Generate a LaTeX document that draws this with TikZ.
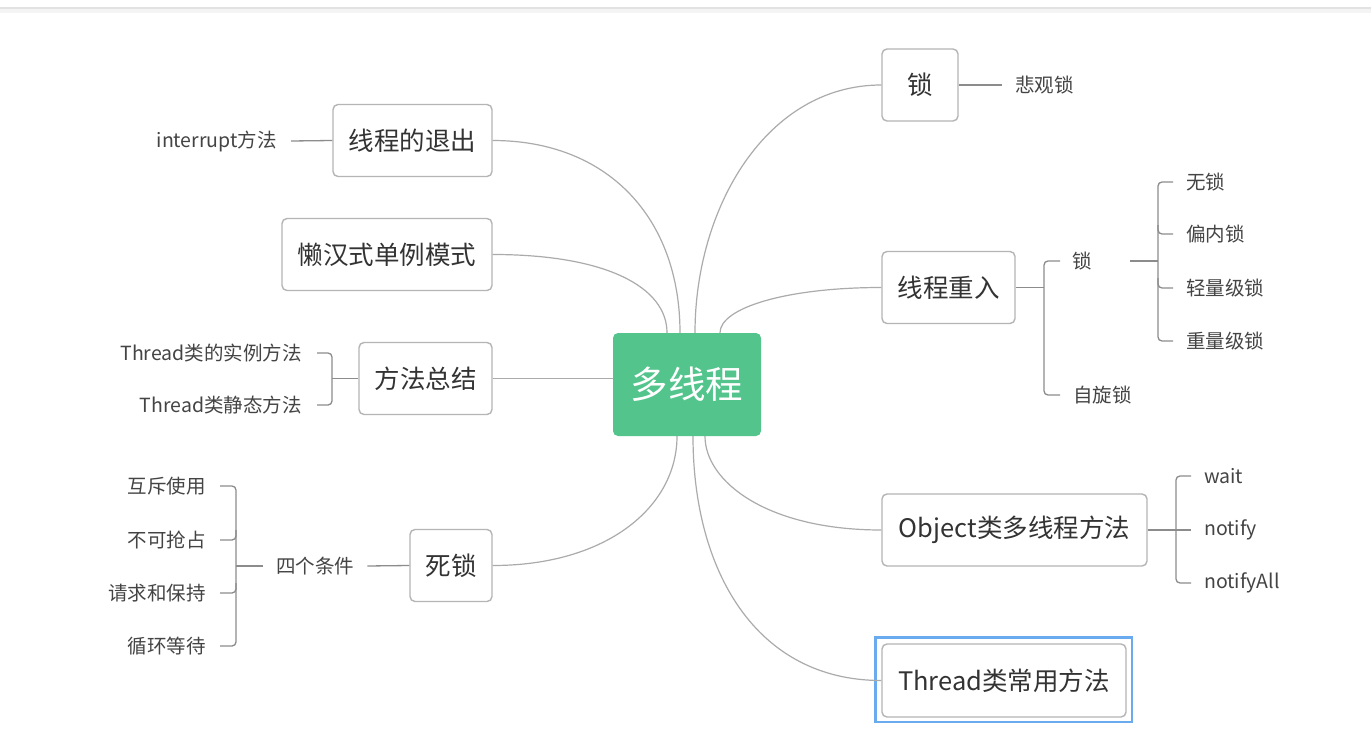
\documentclass[tikz,border=0pt]{standalone}
\usepackage{fontspec}
\setmainfont{Noto Sans CJK SC}
\usetikzlibrary{calc}
\definecolor{boxline}{HTML}{B5B5B5}
\definecolor{boxtext}{HTML}{333333}
\definecolor{leaftext}{HTML}{444444}
\definecolor{curve}{HTML}{ABABAB}
\definecolor{brk}{HTML}{8C8C8C}
\definecolor{maingreen}{HTML}{52C48C}
\definecolor{selblue}{HTML}{6AAAEE}
\definecolor{topbar}{HTML}{E2E2E2}
\begin{document}
\begin{tikzpicture}[x=1pt,y=-1pt,
  box/.style={draw=boxline, line width=1.4pt, rounded corners=5pt, fill=white,
    text=boxtext, font=\fontsize{25.5}{29}\selectfont, minimum height=72pt, inner xsep=2pt},
  mainbox/.style={fill=maingreen, rounded corners=5pt, text=white,
    font=\fontsize{37.5}{42}\selectfont, minimum width=148pt, minimum height=103pt},
  leaf/.style={text=leaftext, font=\fontsize{19.5}{23}\selectfont, inner sep=0pt},
  conn/.style={draw=curve, line width=1.2pt},
  bracket/.style={draw=brk, line width=1.3pt, rounded corners=4pt},
  stem/.style={draw=brk, line width=1.3pt}]
\useasboundingbox (0,0) rectangle (1371,752);
\fill[white] (0,0) rectangle (1371,752);
\fill[topbar!40] (0,9) rectangle (1371,13);
\draw[topbar, line width=2pt] (0,8) -- (1371,8);

% central node
\node[mainbox] (c) at (687,384.5) {多线程};

% right boxes
\node[box, minimum width=76pt] (lock) at (920,85) {锁};
\node[box, minimum width=133pt] (reent) at (948.5,287.5) {线程重入};
\node[box, minimum width=265pt] (obj) at (1014.5,530) {Object类多线程方法};
\node[box, minimum width=244pt, minimum height=73pt] (thr) at (1004,680.5) {Thread类常用方法};
\draw[selblue, line width=2.4pt] ([xshift=-6pt,yshift=6pt]thr.north west) rectangle ([xshift=5pt,yshift=-4pt]thr.south east);

% left boxes
\node[box, minimum width=159pt] (exit) at (412.5,140.5) {线程的退出};
\node[box, minimum width=210pt] (lazy) at (387,254.5) {懒汉式单例模式};
\node[box, minimum width=133pt] (summ) at (425.5,378.5) {方法总结};
\node[box, minimum width=82pt] (dead) at (451,565.5) {死锁};

% connectors from center
\draw[conn] (exit.east) .. controls +(115,0) and +(0,-115) .. ([xshift=-7pt]c.north);
\draw[conn] (lazy.east) .. controls +(115,0) and +(0,-45) .. ([xshift=-20pt]c.north);
\draw[conn] (summ.east) -- (summ.east -| c.west);
\draw[conn] (dead.east) .. controls +(115,0) and +(0,70) .. ([xshift=-10pt]c.south);
\draw[conn] (lock.west) .. controls +(-115,0) and +(0,-125) .. ([xshift=8pt]c.north);
\draw[conn] (reent.west) .. controls +(-95,0) and +(0,-25) .. ([xshift=33pt]c.north);
\draw[conn] (obj.west) .. controls +(-115,0) and +(0,45) .. ([xshift=18pt]c.south);
\draw[conn] (thr.west) .. controls +(-125,0) and +(0,135) .. ([xshift=6pt]c.south);

% lock -> 悲观锁
\node[leaf, anchor=west] (p1) at (1015,85) {悲观锁};
\draw[stem] (lock.east) -- ([xshift=-13pt]p1.west);

% 线程重入 subtree
\node[leaf, anchor=west] (r1) at (1072,261) {锁};
\node[leaf, anchor=west] (r2) at (1073,395) {自旋锁};
\coordinate (rb) at (1044,287.5);
\draw[stem] (reent.east) -- (rb);
\draw[bracket] (1060,261) -| (rb) |- (1060,395);
\node[leaf, anchor=west] (w1) at (1186,182) {无锁};
\node[leaf, anchor=west] (w2) at (1186,234) {偏内锁};
\node[leaf, anchor=west] (w3) at (1186,288) {轻量级锁};
\node[leaf, anchor=west] (w4) at (1186,341) {重量级锁};
\coordinate (r1end) at (1130,261);
\coordinate (wb) at (1158,261);
\draw[stem] (r1end) -- (wb);
\draw[bracket] ([xshift=-13pt]w1.west) -| (wb) |- ([xshift=-13pt]w4.west);
\draw[bracket] (1158,225) |- ([xshift=-13pt]w2.west);
\draw[bracket] (1158,278) |- ([xshift=-13pt]w3.west);

% Object subtree
\node[leaf, anchor=west] (o1) at (1204,476) {wait};
\node[leaf, anchor=west] (o2) at (1204,530) {notify};
\node[leaf, anchor=west] (o3) at (1204,583) {notifyAll};
\coordinate (ob) at (1176,530);
\draw[stem] (obj.east) -- ([xshift=-13pt]o2.west);
\draw[bracket] ([xshift=-13pt]o1.west) -| (ob) |- ([xshift=-13pt]o3.west);

% 线程的退出 leaf
\node[leaf, anchor=east] (e1) at (277,141) {interrupt方法};
\draw[stem] ([xshift=14pt]e1.east) -- (exit.west);

% 方法总结 subtree
\node[leaf, anchor=east] (s1) at (302,353) {Thread类的实例方法};
\node[leaf, anchor=east] (s2) at (302,405) {Thread类静态方法};
\coordinate (sb) at (332,378.5);
\draw[stem] (summ.west) -- (sb);
\draw[bracket] ([xshift=15pt]s1.east) -| (sb) |- ([xshift=15pt]s2.east);

% 死锁 subtree
\node[leaf, anchor=west] (d0) at (276,566) {四个条件};
\draw[stem] ([xshift=13pt]d0.east) -- (dead.west);
\node[leaf, anchor=east] (d1) at (206,486) {互斥使用};
\node[leaf, anchor=east] (d2) at (206,540) {不可抢占};
\node[leaf, anchor=east] (d3) at (206,593) {请求和保持};
\node[leaf, anchor=east] (d4) at (206,646) {循环等待};
\coordinate (db) at (236,566);
\draw[stem] ([xshift=-13pt]d0.west) -- (db);
\draw[bracket] ([xshift=14pt]d1.east) -| (db) |- ([xshift=14pt]d4.east);
\draw[bracket] (236,530) |- ([xshift=14pt]d2.east);
\draw[bracket] (236,583) |- ([xshift=14pt]d3.east);
\end{tikzpicture}
\end{document}
